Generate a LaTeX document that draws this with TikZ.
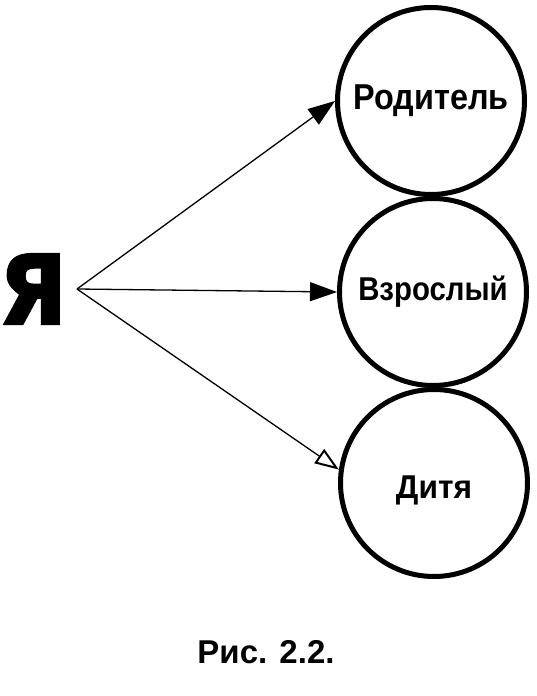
\documentclass[tikz,border=0pt]{standalone}
\usepackage{fontspec}
\setmainfont{Liberation Sans}
\newfontfamily\heavyfont[FakeBold=3]{DejaVu Sans Bold}
\usetikzlibrary{arrows.meta}
\begin{document}
\begin{tikzpicture}[x=1pt,y=-1pt,
  role/.style={draw=black,line width=5pt,circle,minimum size=187pt,inner sep=0pt},
  link/.style={line width=1.3pt,-{Triangle[length=27pt,width=19pt]}},
  openlink/.style={line width=1.3pt,-{Triangle[open,length=24pt,width=17pt,line width=2pt]}}]
\useasboundingbox (0,0) rectangle (536,696);
\node[role] (top) at (431,101) {};
\node[role] (mid) at (433,292) {};
\node[role] (bot) at (434,483) {};
\node[font=\bfseries\fontsize{36}{40}\selectfont,xscale=0.9] (tl) at (top.center) {Родитель};
\node[font=\bfseries\fontsize{33}{38}\selectfont,xscale=0.89] (ml) at (mid.center) {Взрослый};
\node[font=\bfseries\fontsize{33}{38}\selectfont,xscale=0.96] (bl) at ([yshift=-7pt]bot.center) {Дитя};
\node[font=\heavyfont\fontsize{95}{100}\selectfont,xscale=0.92,inner sep=0pt] (ya) at (33,289) {Я};
\coordinate (src) at (77,289);
\draw[link] (src) -- (top.west);
\draw[link] (src) -- (mid.west);
\draw[openlink] (src) -- (bot.172);
\node[font=\bfseries\fontsize{33}{38}\selectfont] (cap) at (266,652) {Рис. 2.2.};
\end{tikzpicture}
\end{document}
